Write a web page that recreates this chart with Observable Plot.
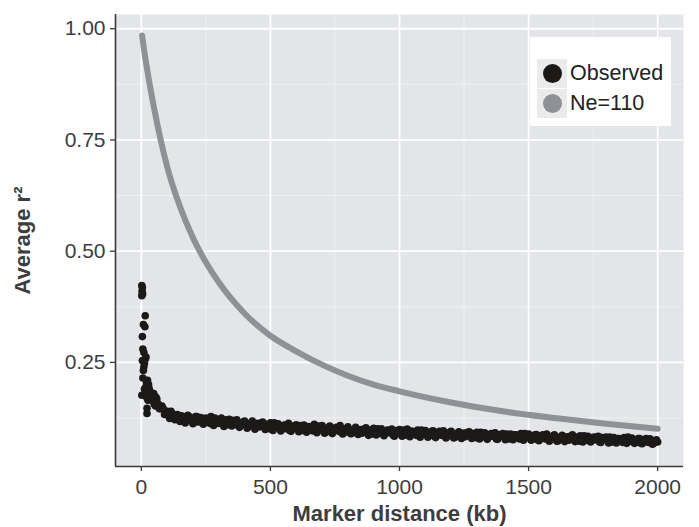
<!DOCTYPE html>
<html>
<head>
<meta charset="utf-8">
<script src="https://cdn.jsdelivr.net/npm/d3@7"></script>
<script src="https://cdn.jsdelivr.net/npm/@observablehq/plot@0.6"></script>
<style>
  body { margin: 0; background: #fff; font-family: "Liberation Sans", Arial, sans-serif; }
  #wrap { position: relative; width: 699px; height: 527px; }
  #legend { position: absolute; left: 530px; top: 37px; width: 141px; height: 89px; background: #fff; }
  .row { position: absolute; left: 7px; height: 29px; display: flex; align-items: center; }
  .key { width: 30px; height: 29px; background: #ebebeb; display: flex; align-items: center; justify-content: center; }
  .key span { width: 19px; height: 19px; border-radius: 50%; display: block; }
  .lab { margin-left: 3px; font-size: 21.5px; color: #222; white-space: nowrap; }
  g[aria-label="x-axis label"], g[aria-label="y-axis label"] { font-weight: bold; font-size: 22px; }
</style>
</head>
<body>
<div id="wrap"></div>
<script>
// ---- data ----
const xTicks = [0, 500, 1000, 1500, 2000];
const xMinorTicks = [250, 750, 1250, 1750];
const yTicks = [0.25, 0.50, 0.75, 1.00];
const yMinorTicks = [0.125, 0.375, 0.625, 0.875];

const seriesNames = ["Observed", "Ne=110"];

// Expected curve (Ne=110)
const neKb = [3, 10, 25, 50, 75, 100, 150, 200, 250, 300, 400, 500, 600, 700, 800, 900, 1000, 1200, 1400, 1600, 1800, 2000];
const neR2 = [0.985, 0.955, 0.90, 0.82, 0.75, 0.69, 0.60, 0.53, 0.475, 0.43, 0.36, 0.31, 0.275, 0.245, 0.22, 0.20, 0.185, 0.16, 0.14, 0.125, 0.112, 0.101];

// Observed: scattered short-distance bins
const earlyKb = [2, 4, 3, 5, 2, 15, 14, 8, 4, 6, 10, 18, 16, 4, 12, 10, 8, 20, 24, 28, 18, 30, 34, 26, 2, 38, 22, 32, 22, 22, 36, 12, 6, 26, 30, 16, 44, 48, 52, 56];
const earlyR2 = [0.423, 0.418, 0.41, 0.404, 0.40, 0.355, 0.33, 0.335, 0.308, 0.28, 0.272, 0.262, 0.258, 0.254, 0.248, 0.24, 0.232, 0.205, 0.21, 0.20, 0.195, 0.192, 0.185, 0.18, 0.176, 0.178, 0.17, 0.172, 0.147, 0.135, 0.168, 0.19, 0.215, 0.165, 0.176, 0.186, 0.17, 0.18, 0.16, 0.172];

// Observed: binned averages from 40 kb to 2000 kb, one bin every 10 kb
const obsStartKb = 40, obsStepKb = 10;
const obsR2 = [
  0.178, 0.156, 0.168, 0.146, 0.152, 0.133, 0.140, 0.124, 0.135, 0.121,
  0.133, 0.117, 0.128, 0.114, 0.131, 0.121, 0.112, 0.128, 0.116, 0.126,
  0.111, 0.125, 0.116, 0.128, 0.108, 0.120, 0.113, 0.125, 0.106, 0.118,
  0.122, 0.107, 0.116, 0.121, 0.104, 0.113, 0.118, 0.102, 0.111, 0.118,
  0.100, 0.113, 0.106, 0.116, 0.099, 0.109, 0.114, 0.097, 0.106, 0.112,
  0.096, 0.108, 0.101, 0.113, 0.095, 0.105, 0.110, 0.094, 0.103, 0.109,
  0.093, 0.106, 0.099, 0.111, 0.092, 0.102, 0.108, 0.091, 0.100, 0.107,
  0.090, 0.101, 0.097, 0.108, 0.089, 0.100, 0.105, 0.090, 0.098, 0.104,
  0.088, 0.099, 0.094, 0.103, 0.086, 0.097, 0.102, 0.087, 0.095, 0.101,
  0.085, 0.097, 0.092, 0.100, 0.084, 0.094, 0.099, 0.084, 0.093, 0.100,
  0.083, 0.095, 0.090, 0.098, 0.082, 0.092, 0.097, 0.082, 0.090, 0.096,
  0.081, 0.093, 0.087, 0.096, 0.080, 0.091, 0.095, 0.080, 0.088, 0.094,
  0.079, 0.091, 0.086, 0.094, 0.079, 0.089, 0.093, 0.078, 0.087, 0.092,
  0.077, 0.088, 0.084, 0.092, 0.077, 0.086, 0.090, 0.076, 0.085, 0.089,
  0.076, 0.087, 0.082, 0.090, 0.075, 0.085, 0.089, 0.075, 0.083, 0.088,
  0.074, 0.085, 0.080, 0.089, 0.073, 0.083, 0.087, 0.073, 0.081, 0.086,
  0.072, 0.083, 0.078, 0.087, 0.072, 0.081, 0.085, 0.071, 0.079, 0.084,
  0.071, 0.081, 0.076, 0.084, 0.070, 0.079, 0.082, 0.069, 0.077, 0.081,
  0.069, 0.079, 0.074, 0.081, 0.068, 0.077, 0.080, 0.068, 0.075, 0.079,
  0.067, 0.076, 0.072, 0.078, 0.066, 0.074, 0.071
];

// Observed: interleaved bins from 45 kb to 1995 kb, one bin every 10 kb
const obsMidStartKb = 45, obsMidStepKb = 10;
const obsMidR2 = [
  0.164, 0.152, 0.157, 0.146, 0.146, 0.133, 0.137, 0.140, 0.128, 0.129,
  0.123, 0.130, 0.125, 0.118, 0.128, 0.124, 0.121, 0.128, 0.117, 0.123,
  0.123, 0.118, 0.113, 0.121, 0.125, 0.115, 0.119, 0.113, 0.121, 0.110,
  0.114, 0.120, 0.110, 0.115, 0.108, 0.116, 0.111, 0.106, 0.114, 0.112,
  0.111, 0.105, 0.114, 0.107, 0.111, 0.101, 0.108, 0.114, 0.103, 0.106,
  0.101, 0.109, 0.104, 0.097, 0.107, 0.104, 0.101, 0.108, 0.097, 0.104,
  0.105, 0.100, 0.096, 0.103, 0.107, 0.098, 0.102, 0.095, 0.104, 0.093,
  0.098, 0.104, 0.095, 0.099, 0.092, 0.101, 0.096, 0.090, 0.099, 0.097,
  0.097, 0.091, 0.101, 0.094, 0.098, 0.089, 0.095, 0.101, 0.091, 0.094,
  0.090, 0.098, 0.093, 0.087, 0.097, 0.093, 0.091, 0.098, 0.087, 0.094,
  0.095, 0.090, 0.086, 0.094, 0.098, 0.089, 0.092, 0.086, 0.095, 0.084,
  0.089, 0.095, 0.086, 0.091, 0.084, 0.093, 0.087, 0.082, 0.091, 0.089,
  0.089, 0.083, 0.093, 0.086, 0.090, 0.081, 0.087, 0.093, 0.083, 0.086,
  0.082, 0.090, 0.085, 0.078, 0.088, 0.085, 0.082, 0.089, 0.078, 0.085,
  0.087, 0.082, 0.078, 0.086, 0.090, 0.081, 0.084, 0.078, 0.087, 0.076,
  0.081, 0.087, 0.078, 0.083, 0.076, 0.085, 0.080, 0.074, 0.083, 0.081,
  0.081, 0.075, 0.085, 0.078, 0.082, 0.073, 0.079, 0.085, 0.075, 0.078,
  0.074, 0.082, 0.077, 0.071, 0.081, 0.077, 0.075, 0.082, 0.071, 0.078,
  0.079, 0.074, 0.070, 0.078, 0.082, 0.073, 0.076, 0.070, 0.079, 0.068,
  0.073, 0.079, 0.070, 0.075, 0.068, 0.076
];

// ---- build tables ----
const neData = neKb.map((k, i) => ({kb: k, r2: neR2[i]}));
const obsData = earlyKb.map((k, i) => ({kb: k, r2: earlyR2[i]}))
  .concat(obsR2.map((v, i) => ({kb: obsStartKb + i * obsStepKb, r2: v})))
  .concat(obsMidR2.map((v, i) => ({kb: obsMidStartKb + i * obsMidStepKb, r2: v})));

const colObs = "#1c1919";
const colNe = "#8e9195";
const axisCol = "#3a3a3a";

const chart = Plot.plot({
  width: 699,
  height: 527,
  marginLeft: 115,
  marginRight: 16,
  marginTop: 14,
  marginBottom: 61,
  style: {background: "transparent", fontFamily: "'Liberation Sans', Arial, sans-serif", overflow: "visible"},
  x: {domain: [-100, 2100]},
  y: {domain: [0.016, 1.032]},
  marks: [
    Plot.frame({fill: "#e3e5e8", stroke: null}),
    Plot.gridX(xMinorTicks, {stroke: "#eef0f2", strokeOpacity: 1, strokeWidth: 1}),
    Plot.gridY(yMinorTicks, {stroke: "#eef0f2", strokeOpacity: 1, strokeWidth: 1}),
    Plot.gridX(xTicks, {stroke: "#ffffff", strokeOpacity: 1, strokeWidth: 1.8}),
    Plot.gridY(yTicks, {stroke: "#ffffff", strokeOpacity: 1, strokeWidth: 1.8}),
    Plot.line(neData, {x: "kb", y: "r2", stroke: colNe, strokeWidth: 6, curve: "monotone-x", strokeLinecap: "round"}),
    Plot.dot(obsData, {x: "kb", y: "r2", r: 3.8, fill: colObs, stroke: null}),
    Plot.ruleX([-100], {stroke: axisCol, strokeWidth: 1.6}),
    Plot.ruleY([0.016], {stroke: axisCol, strokeWidth: 1.6}),
    Plot.axisX(xTicks, {
      tickSize: 5, tickPadding: 8, fontSize: 21, stroke: axisCol, fill: "#3d3d3d", strokeWidth: 1.3,
      tickFormat: d3.format("d"),
      label: "Marker distance (kb)", labelAnchor: "center", labelOffset: 54, labelArrow: "none"
    }),
    Plot.axisY(yTicks, {
      tickSize: 5, tickPadding: 5, fontSize: 21, stroke: axisCol, fill: "#3d3d3d", strokeWidth: 1.3,
      tickFormat: d3.format(".2f"),
      label: "Average r²", labelAnchor: "center", labelOffset: 101, labelArrow: "none"
    })
  ]
});

const wrap = document.getElementById("wrap");
wrap.appendChild(chart);

// legend
const legend = document.createElement("div");
legend.id = "legend";
const legendCols = [colObs, colNe];
seriesNames.forEach((name, i) => {
  const row = document.createElement("div");
  row.className = "row";
  row.style.top = (22 + i * 29.5) + "px";
  row.innerHTML = `<div class="key"><span style="background:${legendCols[i]}"></span></div><div class="lab">${name}</div>`;
  legend.appendChild(row);
});
wrap.appendChild(legend);
</script>
</body>
</html>
